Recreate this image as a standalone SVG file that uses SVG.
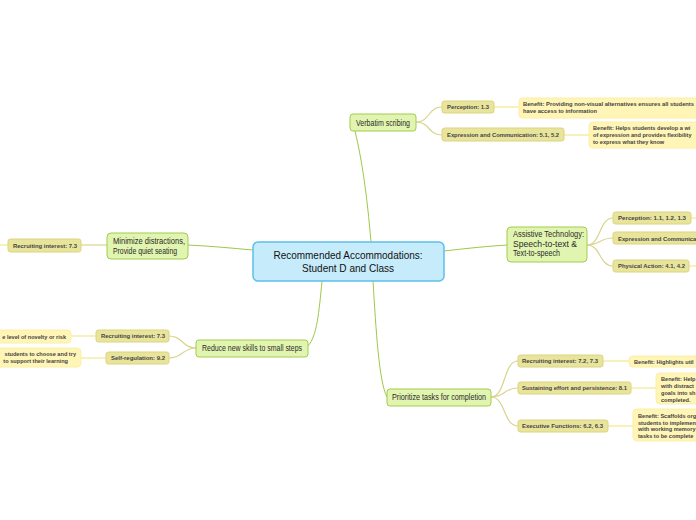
<svg xmlns="http://www.w3.org/2000/svg" width="696" height="520" viewBox="0 0 696 520">
<style>
.bg{fill:#ffffff}
.c0{fill:#c6ebfb;stroke:#5cc0ec;stroke-width:1.5}
.n1{fill:#e2f5b0;stroke:#a3cb4e;stroke-width:1}
.n2{fill:#e9e49c;stroke:#dbd47e;stroke-width:1}
.n3{fill:#fff5b6;stroke:#fcefa3;stroke-width:1}
.t0{font-family:"Liberation Sans",Arial,sans-serif;font-size:10.5px;fill:#111;text-anchor:middle}
.t1{font-family:"Liberation Sans",Arial,sans-serif;font-size:8.2px;fill:#2a2a2a}
.t2{font-family:"Liberation Sans",Arial,sans-serif;font-size:5.6px;font-weight:bold;fill:#444}
.e1{fill:none;stroke:#9fc74a;stroke-width:1}
.e2{fill:none;stroke:#d9d48f;stroke-width:1.2}
.e3{fill:none;stroke:#f7eca6;stroke-width:1.5}
</style>
<rect class="bg" x="0" y="0" width="696" height="520"/>
<g id="connectors">
<path class="e1" d="M371,242 C367,195 362,160 355,131"/>
<path class="e1" d="M444,251 C470,248 490,246 508,245"/>
<path class="e1" d="M253,250 C230,248 210,246 188,245"/>
<path class="e1" d="M322,281 C319,312 317,336 308,346"/>
<path class="e1" d="M373,281 C376,330 379,382 387,397"/>
<path class="e2" d="M416,122 C430,122 428,107 442,107"/>
<path class="e2" d="M416,122 C430,122 428,135 442,135"/>
<path class="e2" d="M587,245 C601,245 599,218 613,218"/>
<path class="e2" d="M587,245 C601,245 599,238 613,238"/>
<path class="e2" d="M587,245 C601,245 599,266 613,266"/>
<path class="e2" d="M491,397 C506,397 503,361 518,361"/>
<path class="e2" d="M491,397 C506,397 503,388 518,388"/>
<path class="e2" d="M491,397 C506,397 503,426 518,426"/>
<path class="e2" d="M196,348 C182,348 183,336 169,336"/>
<path class="e2" d="M196,348 C182,348 183,358 169,358"/>
<path class="e2" d="M107,245 L81,245"/>
<path class="e3" d="M494,107 L519,107"/>
<path class="e3" d="M564,135 L589,135"/>
<path class="e3" d="M603,361 L629,361"/>
<path class="e3" d="M631,388 L656,388"/>
<path class="e3" d="M608,426 L633,426"/>
<path class="e3" d="M691,218 L700,218"/>
<path class="e3" d="M689,266 L700,266"/>
<path class="e3" d="M96,336 L71,336"/>
<path class="e3" d="M106,358 L81,358"/>
<path class="e3" d="M8,245 L-2,245"/>
</g>
<g id="center">
<rect class="c0" x="253" y="242" width="191" height="39" rx="5"/>
<text class="t0" x="348" y="258.5" textLength="149" lengthAdjust="spacingAndGlyphs">Recommended Accommodations:</text>
<text class="t0" x="348" y="272" textLength="92" lengthAdjust="spacingAndGlyphs">Student D and Class</text>
</g>
<g id="verbatim">
<rect class="n1" x="350" y="114" width="66" height="17" rx="3"/>
<text class="t1" x="356" y="125.5" textLength="54" lengthAdjust="spacingAndGlyphs">Verbatim scribing</text>
</g>
<g id="v-perception">
<rect class="n2" x="442" y="101" width="52" height="12" rx="2.5"/>
<text class="t2" x="447" y="109" textLength="42" lengthAdjust="spacingAndGlyphs">Perception: 1.3</text>
</g>
<g id="v-perception-benefit">
<rect class="n3" x="519" y="98" width="190" height="20" rx="4"/>
<text class="t2" x="523" y="106" textLength="171" lengthAdjust="spacingAndGlyphs">Benefit: Providing non-visual alternatives ensures all students</text>
<text class="t2" x="523" y="113" textLength="74" lengthAdjust="spacingAndGlyphs">have access to information</text>
</g>
<g id="v-expression">
<rect class="n2" x="442" y="128" width="122" height="13" rx="2.5"/>
<text class="t2" x="447" y="136.5" textLength="112" lengthAdjust="spacingAndGlyphs">Expression and Communication: 5.1, 5.2</text>
</g>
<g id="v-expression-benefit">
<rect class="n3" x="589" y="122" width="120" height="26" rx="4"/>
<text class="t2" x="593" y="130">Benefit: Helps students develop a wi</text>
<text class="t2" x="593" y="137">of expression and provides flexibility</text>
<text class="t2" x="593" y="144">to express what they know</text>
</g>
<g id="assistive">
<rect class="n1" x="507" y="227" width="80" height="35" rx="4"/>
<text class="t1" x="513" y="237" textLength="71" lengthAdjust="spacingAndGlyphs">Assistive Technology:</text>
<text class="t1" x="513" y="246.5" textLength="64" lengthAdjust="spacingAndGlyphs">Speech-to-text &amp;</text>
<text class="t1" x="513" y="256" textLength="47" lengthAdjust="spacingAndGlyphs">Text-to-speech</text>
</g>
<g id="a-perception">
<rect class="n2" x="613" y="212" width="78" height="12" rx="2.5"/>
<text class="t2" x="618" y="220" textLength="68" lengthAdjust="spacingAndGlyphs">Perception: 1.1, 1.2, 1.3</text>
</g>
<g id="a-expression">
<rect class="n2" x="613" y="232" width="122" height="12" rx="2.5"/>
<text class="t2" x="618" y="240.5" textLength="112" lengthAdjust="spacingAndGlyphs">Expression and Communication: 5.1, 5.2</text>
</g>
<g id="a-physical">
<rect class="n2" x="613" y="260" width="76" height="12" rx="2.5"/>
<text class="t2" x="618" y="268.3" textLength="67" lengthAdjust="spacingAndGlyphs">Physical Action: 4.1, 4.2</text>
</g>
<g id="minimize">
<rect class="n1" x="107" y="233" width="81" height="26" rx="4"/>
<text class="t1" x="113" y="244" textLength="72" lengthAdjust="spacingAndGlyphs">Minimize distractions,</text>
<text class="t1" x="113" y="253.5" textLength="64" lengthAdjust="spacingAndGlyphs">Provide quiet seating</text>
</g>
<g id="m-recruiting">
<rect class="n2" x="8" y="239" width="73" height="13" rx="2.5"/>
<text class="t2" x="13" y="247.5" textLength="64" lengthAdjust="spacingAndGlyphs">Recruiting interest: 7.3</text>
</g>
<g id="reduce">
<rect class="n1" x="196" y="340" width="112" height="17" rx="3"/>
<text class="t1" x="202" y="351.3" textLength="100" lengthAdjust="spacingAndGlyphs">Reduce new skills to small steps</text>
</g>
<g id="r-recruiting">
<rect class="n2" x="96" y="330" width="73" height="12" rx="2.5"/>
<text class="t2" x="101" y="338.3" textLength="64" lengthAdjust="spacingAndGlyphs">Recruiting interest: 7.3</text>
</g>
<g id="r-recruiting-benefit">
<rect class="n3" x="-20" y="330" width="91" height="13" rx="4"/>
<text class="t2" x="66" y="338.5" text-anchor="end">e level of novelty or risk</text>
</g>
<g id="r-selfreg">
<rect class="n2" x="106" y="352" width="63" height="12" rx="2.5"/>
<text class="t2" x="111" y="360.3" textLength="54" lengthAdjust="spacingAndGlyphs">Self-regulation: 9.2</text>
</g>
<g id="r-selfreg-benefit">
<rect class="n3" x="-20" y="348" width="101" height="19" rx="4"/>
<text class="t2" x="76" y="355.5" text-anchor="end">students to choose and try</text>
<text class="t2" x="68" y="362.5" text-anchor="end">to support their learning</text>
</g>
<g id="prioritize">
<rect class="n1" x="387" y="389" width="104" height="17" rx="3"/>
<text class="t1" x="392" y="400.3" textLength="94" lengthAdjust="spacingAndGlyphs">Prioritize tasks for completion</text>
</g>
<g id="p-recruiting">
<rect class="n2" x="518" y="355" width="85" height="12" rx="2.5"/>
<text class="t2" x="522" y="363.3" textLength="76" lengthAdjust="spacingAndGlyphs">Recruiting interest: 7.2, 7.3</text>
</g>
<g id="p-recruiting-benefit">
<rect class="n3" x="629" y="356" width="90" height="11" rx="4"/>
<text class="t2" x="634" y="363.5">Benefit: Highlights util</text>
</g>
<g id="p-sustaining">
<rect class="n2" x="518" y="382" width="113" height="12" rx="2.5"/>
<text class="t2" x="522" y="390.3" textLength="105" lengthAdjust="spacingAndGlyphs">Sustaining effort and persistence: 8.1</text>
</g>
<g id="p-sustaining-benefit">
<rect class="n3" x="656" y="373" width="60" height="31" rx="4"/>
<text class="t2" x="661" y="381">Benefit: Help</text>
<text class="t2" x="661" y="388">with distract</text>
<text class="t2" x="661" y="395">goals into sh</text>
<text class="t2" x="661" y="401.5">completed.</text>
</g>
<g id="p-executive">
<rect class="n2" x="518" y="420" width="90" height="12" rx="2.5"/>
<text class="t2" x="522" y="428.3" textLength="81" lengthAdjust="spacingAndGlyphs">Executive Functions: 6.2, 6.3</text>
</g>
<g id="p-executive-benefit">
<rect class="n3" x="633" y="409" width="80" height="32" rx="4"/>
<text class="t2" x="638" y="418">Benefit: Scaffolds org</text>
<text class="t2" x="638" y="424.5">students to implemen</text>
<text class="t2" x="638" y="431">with working memory</text>
<text class="t2" x="638" y="437.5">tasks to be complete</text>
</g>
</svg>
